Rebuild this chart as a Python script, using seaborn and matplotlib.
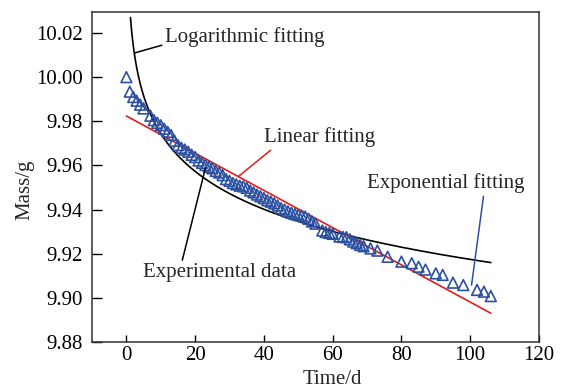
import numpy as np
import pandas as pd
import matplotlib
matplotlib.use("Agg")
import matplotlib.pyplot as plt
import seaborn as sns

# ---- data ----
days = [0, 1, 2, 3, 4, 5, 7, 8, 9, 10, 11, 12, 13, 14, 15, 16, 17, 18, 19, 20,
        21, 22, 23, 24, 25, 26, 27, 28, 29, 30, 31, 32, 33, 34, 35, 36, 37, 38,
        39, 40, 41, 42, 43, 44, 45, 46, 47, 48, 49, 50, 51, 52, 53, 54, 55, 57,
        58, 59, 60, 62, 63, 64, 65, 66, 67, 68, 69, 71, 73, 76, 80, 83, 85, 87,
        90, 92, 95, 98, 102, 104, 106]
mass = [10.000, 9.9934, 9.9910, 9.9893, 9.9875, 9.9858, 9.9825, 9.9805, 9.9793,
        9.9782, 9.9766, 9.9752, 9.9738, 9.9712, 9.9692, 9.9680, 9.9672, 9.9662,
        9.9648, 9.9638, 9.9622, 9.9612, 9.9602, 9.9594, 9.9587, 9.9575, 9.9568,
        9.9556, 9.9538, 9.9530, 9.9520, 9.9514, 9.9508, 9.9505, 9.9498, 9.9486,
        9.9478, 9.9468, 9.9460, 9.9452, 9.9442, 9.9436, 9.9428, 9.9418, 9.9406,
        9.9400, 9.9392, 9.9385, 9.9380, 9.9376, 9.9372, 9.9368, 9.9358, 9.9346,
        9.9336, 9.9305, 9.9298, 9.9294, 9.9290, 9.9278, 9.9276, 9.9275, 9.9265,
        9.9255, 9.9248, 9.9240, 9.9234, 9.9224, 9.9214, 9.9186, 9.9164, 9.9157,
        9.9141, 9.9128, 9.9111, 9.9104, 9.9069, 9.9058, 9.9036, 9.9028, 9.9008]

# fitted models (coefficients estimated from the drawn curves)
log_fit = [10.0315, 0.02477]      # y = a - b*ln(t)
log_range = [1.2, 106]
lin_fit = [9.9824, -0.000843]     # y = c + k*t
lin_range = [0, 106]

x_ticks = [0, 20, 40, 60, 80, 100, 120]
y_ticks = [9.88, 9.90, 9.92, 9.94, 9.96, 9.98, 10.00, 10.02]

# ---- style ----
sns.set_theme(style="ticks")
plt.rcParams["font.family"] = ["Liberation Serif", "DejaVu Serif"]
plt.rcParams["mathtext.fontset"] = "stix"

blue = "#2c50a0"
red = "#e31a1c"

fig = plt.figure(figsize=(5.66, 3.91), dpi=100)
ax = fig.add_axes([0.1625, 0.1253, 0.7897, 0.8440])

t_log = np.linspace(log_range[0], log_range[1], 400)
log_df = pd.DataFrame({"t": t_log, "m": log_fit[0] - log_fit[1] * np.log(t_log)})
t_lin = np.array(lin_range, dtype=float)
lin_df = pd.DataFrame({"t": t_lin, "m": lin_fit[0] + lin_fit[1] * t_lin})
exp_df = pd.DataFrame({"t": days, "m": mass})

sns.lineplot(data=log_df, x="t", y="m", ax=ax, color="black", lw=1.2,
             estimator=None, sort=True)
sns.lineplot(data=lin_df, x="t", y="m", ax=ax, color=red, lw=1.2,
             estimator=None, sort=True)
sns.scatterplot(data=exp_df, x="t", y="m", ax=ax, marker="^", s=60,
                facecolor="none", edgecolor=blue, linewidth=1.2, zorder=3)

ax.set_xlim(-10, 120)
ax.set_ylim(9.88, 10.0295)
ax.set_xticks(x_ticks)
ax.set_yticks(y_ticks)
ax.set_xticklabels([str(v) for v in x_ticks])
ax.set_yticklabels([f"{v:.2f}" for v in y_ticks])
ax.tick_params(axis="x", direction="in", length=5, width=1, pad=3,
               labelsize=15, colors="black")
ax.tick_params(axis="y", direction="in", length=7, width=1, pad=6.5,
               labelsize=15, colors="black")
for sp in ax.spines.values():
    sp.set_visible(True)
    sp.set_color("#333333")
    sp.set_linewidth(1.1)

ax.set_xlabel("Time/d", fontsize=15, labelpad=0)
ax.set_ylabel("Mass/g", fontsize=15)
ax.xaxis.set_label_coords((60 + 10) / 130, -0.085)
ax.yaxis.set_label_coords(-0.128, 0.46)

fs = 15
ax.annotate("Logarithmic fitting", xy=(2.3, 10.0109), xytext=(11.3, 10.0182),
            fontsize=fs, va="center", ha="left",
            arrowprops=dict(arrowstyle="-", color="black", lw=1.1,
                            shrinkA=0, shrinkB=0, relpos=(0.03, 0.2)))
ax.annotate("Linear fitting", xy=(32.6, 9.9550), xytext=(39.9, 9.9729),
            fontsize=fs, va="center", ha="left",
            arrowprops=dict(arrowstyle="-", color=red, lw=1.1,
                            shrinkA=0, shrinkB=0, relpos=(0.1, 0.0)))
ax.annotate("Exponential fitting", xy=(100.4, 9.9058), xytext=(70.1, 9.9520),
            fontsize=fs, va="center", ha="left",
            arrowprops=dict(arrowstyle="-", color=blue, lw=1.1,
                            shrinkA=0, shrinkB=0, relpos=(0.74, 0.0)))
ax.annotate("Experimental data", xy=(23.0, 9.9588), xytext=(4.9, 9.9113),
            fontsize=fs, va="center", ha="left",
            arrowprops=dict(arrowstyle="-", color="black", lw=1.1,
                            shrinkA=0, shrinkB=0, relpos=(0.25, 1.0)))

fig.savefig("out.png", dpi=100)
